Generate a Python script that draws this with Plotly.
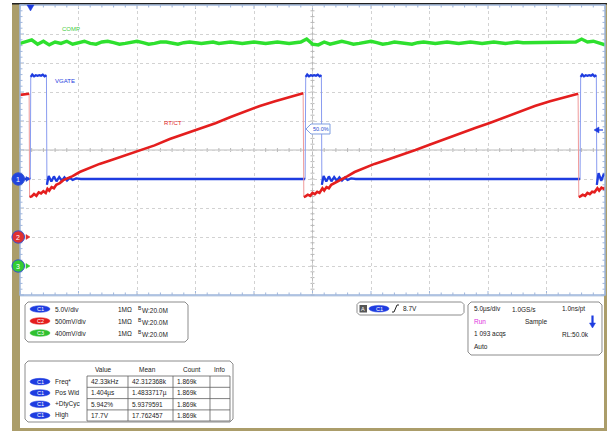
import plotly.graph_objects as go

W, H = 607, 431

# ------------------------------------------------------------------ data
# Channel 1 : VGATE (V) vs time (us)
vgate_t = [-0.9, -0.6, -0.3, -0.02, 0.02, 0.15, 0.3, 0.45, 0.6, 0.75, 0.9, 1.05, 1.2, 1.36,
           1.40, 1.55, 1.78, 2.0, 2.22, 2.45, 2.68, 2.9, 3.12, 3.35, 3.6, 3.9, 4.3, 5.0,
           8.0, 12.0, 16.0, 20.0, 23.47,
           23.52, 23.65, 23.8, 23.95, 24.1, 24.25, 24.4, 24.55, 24.72, 24.86,
           24.90, 25.05, 25.28, 25.5, 25.72, 25.95, 26.18, 26.4, 26.62, 26.85, 27.1, 27.4,
           27.8, 28.5, 32.0, 36.0, 40.0, 44.0, 46.97,
           47.02, 47.15, 47.3, 47.45, 47.6, 47.75, 47.9, 48.05, 48.2, 48.36,
           48.40, 48.55, 48.78, 49.0, 49.1]
vgate_v = [0.1, -0.1, 0.1, 0.0, 17.6, 18.0, 17.7, 17.9, 17.8, 17.9, 17.8, 18.0, 17.7, 17.9,
           -1.0, 0.5, -0.45, 0.45, -0.4, 0.35, -0.3, 0.3, -0.25, 0.2, -0.15, 0.1, 0.0, 0.0,
           0.05, -0.05, 0.05, 0.0, 0.0,
           17.6, 18.0, 17.7, 17.9, 17.8, 17.9, 17.8, 18.0, 17.7, 17.9,
           -1.0, 0.5, -0.45, 0.45, -0.4, 0.35, -0.3, 0.3, -0.25, 0.2, -0.15, 0.1,
           0.0, 0.0, 0.05, -0.05, 0.05, 0.0, 0.0,
           17.6, 18.0, 17.7, 17.9, 17.8, 17.9, 17.8, 18.0, 17.7, 17.9,
           -1.0, 1.0, -0.3, 0.9, 0.5]

# Channel 2 : RT/CT (V) vs time (us)
rtct_t = [-0.9, -0.5, -0.12, -0.08, 0.1, 0.3, 0.5, 0.7, 0.9, 1.1, 1.3, 1.45, 1.6, 1.8, 2.0,
          2.2, 2.5, 2.8, 3.2, 3.6, 4.2, 5.0, 5.9, 6.8, 7.7, 8.5, 9.4, 10.6, 11.9, 13.2, 14.5,
          15.8, 17.1, 18.4, 19.6, 20.9, 22.2, 23.3,
          23.36, 23.5, 23.7, 23.9, 24.1, 24.3, 24.5, 24.7, 24.95, 25.1, 25.3, 25.5, 25.7,
          26.0, 26.3, 26.7, 27.1, 27.7, 28.5, 29.4, 30.3, 31.2, 32.0, 32.9, 34.1, 35.4,
          36.7, 38.0, 39.3, 40.6, 41.9, 43.1, 44.4, 45.7, 46.8,
          46.86, 47.0, 47.2, 47.4, 47.6, 47.8, 48.0, 48.2, 48.45, 48.6, 48.8, 49.0, 49.1]
rtct_v = [2.45, 2.46, 2.47, 0.69, 0.70, 0.74, 0.71, 0.77, 0.75, 0.79, 0.76, 0.83, 0.80, 0.86,
          0.84, 0.90, 0.93, 0.98, 1.01, 1.05, 1.12, 1.19, 1.26, 1.32, 1.38, 1.44, 1.50, 1.58,
          1.69, 1.78, 1.88, 1.96, 2.07, 2.17, 2.26, 2.34, 2.41, 2.48,
          0.69, 0.70, 0.73, 0.71, 0.76, 0.74, 0.78, 0.76, 0.84, 0.80, 0.86, 0.84, 0.90,
          0.93, 0.97, 1.01, 1.05, 1.12, 1.19, 1.26, 1.32, 1.38, 1.44, 1.50, 1.59, 1.69,
          1.78, 1.88, 1.97, 2.07, 2.17, 2.26, 2.34, 2.41, 2.47,
          0.69, 0.70, 0.73, 0.71, 0.76, 0.74, 0.78, 0.77, 0.84, 0.80, 0.85, 0.83, 0.86]

# Channel 3 : COMP (V), sampled every 0.5 us from -0.9 us
comp_t0, comp_dt = -0.9, 0.5
comp_v = [3.07, 3.09, 3.12, 3.06, 3.10, 3.05, 3.09, 3.07, 3.10, 3.06,
          3.08, 3.10, 3.07, 3.06, 3.09, 3.10, 3.08, 3.06, 3.07, 3.09,
          3.10, 3.08, 3.06, 3.07, 3.09, 3.09, 3.07, 3.06, 3.08, 3.09,
          3.08, 3.07, 3.08, 3.09, 3.07, 3.08, 3.09, 3.08, 3.07, 3.08,
          3.09, 3.08, 3.07, 3.08, 3.09, 3.08, 3.07, 3.08, 3.09, 3.13,
          3.06, 3.05, 3.09, 3.06, 3.08, 3.10, 3.08, 3.06, 3.07, 3.09,
          3.10, 3.08, 3.06, 3.07, 3.09, 3.08, 3.07, 3.06, 3.08, 3.09,
          3.08, 3.07, 3.08, 3.09, 3.08, 3.07, 3.08, 3.09, 3.08, 3.07,
          3.08, 3.09, 3.08, 3.07, 3.08, 3.09, 3.08, 3.08, 3.09, 3.08,
          3.08, 3.09, 3.08, 3.09, 3.08, 3.09, 3.13, 3.09, 3.10, 3.07, 3.05]
comp_t = [round(comp_t0 + comp_dt * i, 2) for i in range(len(comp_v))]

ch_names = ["VGATE", "RT/CT", "COMP"]
ch_scale = ["5.0V/div", "500mV/div", "400mV/div"]
meas_names = ["Freq*", "Pos Wid", "+DtyCyc", "High"]
meas_value = ["42.33kHz", "1.404µs", "5.942%", "17.7V"]
meas_mean = ["42.312368k", "1.4833717µ", "5.9379591", "17.762457"]
meas_count = ["1.869k", "1.869k", "1.869k", "1.869k"]

# ------------------------------------------------------------------ geometry
X0, X1, Y0, Y1 = 20, 605, 5, 295
CX, CY = (X0 + X1) / 2, 150
DX, DY = (X1 - X0) / 10, (Y1 - Y0) / 10


def fx(x):
    return x / W


def fy(y):
    return 1 - y / H


BLUE, RED, GREEN = "#1e3ce0", "#e41e1e", "#2ee02e"
FONT = "Liberation Sans, Arial, sans-serif"


def split(t, v, thr):
    xs, ys = [], []
    for i in range(len(t)):
        if i > 0 and abs(v[i] - v[i - 1]) > thr:
            xs.append(None)
            ys.append(None)
        xs.append(t[i])
        ys.append(v[i])
    return xs, ys


fig = go.Figure()
fig.add_trace(go.Scatter(x=comp_t, y=comp_v, yaxis="y3", mode="lines",
                         line=dict(color=GREEN, width=3.4), hoverinfo="skip"))
fig.add_trace(go.Scatter(x=rtct_t, y=rtct_v, yaxis="y2", mode="lines",
                         line=dict(color="#f09a9a", width=1), hoverinfo="skip"))
fig.add_trace(go.Scatter(x=vgate_t, y=vgate_v, yaxis="y", mode="lines",
                         line=dict(color="#8a9cf0", width=1), hoverinfo="skip"))
rx, ry = split(rtct_t, rtct_v, 0.5)
fig.add_trace(go.Scatter(x=rx, y=ry, yaxis="y2", mode="lines",
                         line=dict(color=RED, width=2.6), hoverinfo="skip"))
bx, by = split(vgate_t, vgate_v, 5)
fig.add_trace(go.Scatter(x=bx, y=by, yaxis="y", mode="lines",
                         line=dict(color=BLUE, width=2.3), hoverinfo="skip"))

shapes = []
ann = []


def rect(x0, y0, x1, y1, fill=None, line=None, lw=1, layer="below"):
    shapes.append(dict(type="rect", xref="paper", yref="paper",
                       x0=fx(x0), x1=fx(x1), y0=fy(y1), y1=fy(y0),
                       fillcolor=fill or "rgba(0,0,0,0)",
                       line=dict(color=line or "rgba(0,0,0,0)", width=lw if line else 0),
                       layer=layer))


def path(pts_list, color, lw=1, fill=None, layer="below", closed=False):
    d = ""
    for pts in pts_list:
        d += "M%.5f,%.5f" % (fx(pts[0][0]), fy(pts[0][1]))
        for p in pts[1:]:
            d += "L%.5f,%.5f" % (fx(p[0]), fy(p[1]))
        if closed:
            d += "Z"
    shapes.append(dict(type="path", xref="paper", yref="paper", path=d,
                       line=dict(color=color, width=lw), fillcolor=fill or "rgba(0,0,0,0)",
                       layer=layer))


def rrect(x0, y0, x1, y1, r, color, lw=1, fill="white"):
    pts = [(x0 + r, y0), (x1 - r, y0), (x1, y0 + r), (x1, y1 - r), (x1 - r, y1),
           (x0 + r, y1), (x0, y1 - r), (x0, y0 + r)]
    path([pts], color, lw, fill=fill, layer="above", closed=True)


def text(x, y, s, size=7, color="#222", anchor="left"):
    ann.append(dict(xref="paper", yref="paper", x=fx(x), y=fy(y), text=s,
                    showarrow=False, xanchor=anchor, yanchor="middle",
                    font=dict(family=FONT, size=size, color=color)))


def pill(x0, x1, yc, color, label):
    shapes.append(dict(type="circle", xref="paper", yref="paper", x0=fx(x0), x1=fx(x1),
                       y0=fy(yc + 3.3), y1=fy(yc - 3.3), fillcolor=color,
                       line=dict(color=color, width=0.5), layer="above"))
    text((x0 + x1) / 2, yc, label, size=5.5, color="white", anchor="center")


# frame
rect(12, 3, W, H, fill="#ab9d6a")
rect(12, 3, W, 4.5, fill="#202020")
rect(X0, Y0, X1, Y1, fill="white")
rect(X0, 297, 604, 428, fill="white")
rect(X0, 295, 604, 297, fill="#dfe6f0")

# center lines + minor ticks
path([[(X0, CY), (X1, CY)], [(CX, Y0), (CX, Y1)]], "#bcbcbc", 1)
ticks = []
for k in range(51):
    x = X0 + k * DX / 5
    ticks.append([(x, CY - 2), (x, CY + 2)])
for k in range(51):
    y = Y0 + k * DY / 5
    ticks.append([(CX - 2, y), (CX + 2, y)])
path(ticks, "#b8b8b8", 1)
edge = []
for k in range(51):
    x = X0 + k * DX / 5
    L = 4 if k % 5 == 0 else 2.5
    edge.append([(x, Y0), (x, Y0 + L)])
    edge.append([(x, Y1), (x, Y1 - L)])
for k in range(51):
    y = Y0 + k * DY / 5
    L = 4 if k % 5 == 0 else 2.5
    edge.append([(X0, y), (X0 + L, y)])
    edge.append([(X1, y), (X1 - L, y)])
path(edge, "#9fb6dc", 1)
rect(X0, Y0, X1, Y1, line="#9fb6dc", lw=1.5, layer="above")

# markers
path([[(27, 5), (34, 5), (30.5, 11)]], BLUE, 0.5, fill=BLUE, layer="above", closed=True)
path([[(594, 130), (599, 127), (599, 133)]], BLUE, 0.5, fill=BLUE, layer="above", closed=True)
path([[(598, 130), (603, 130)]], BLUE, 1.2, layer="above")
for yc, col, lab in [(179, "#2244dd", "1"), (237, "#e03030", "2"), (266, "#33cc33", "3")]:
    shapes.append(dict(type="circle", xref="paper", yref="paper", x0=fx(12), x1=fx(24.5),
                       y0=fy(yc + 6.2), y1=fy(yc - 6.2), fillcolor=col,
                       line=dict(color="#3050d0", width=1), layer="above"))
    text(18.3, yc, lab, size=7, color="white", anchor="center")
    path([[(26, yc - 2.5), (30, yc), (26, yc + 2.5)]], col, 0.5, fill=col, layer="above", closed=True)

# callout
path([[(306, 129), (311, 124), (330, 124), (330, 134), (311, 134)]], "#7f9ee0", 1,
     fill="white", layer="above", closed=True)
text(320.5, 129.3, "50.0%", size=5.5, color="#2a4ad0", anchor="center")

# trace labels
text(60, 29, "COMP", size=6, color="#3ccc3c")
text(53, 81, "VGATE", size=6, color=BLUE)
text(162, 123, "RT/CT", size=6, color=RED)

# channel box
rrect(25, 302, 188, 342, 3, "#8c8c8c")
rows = [309, 321, 333]
cols = [BLUE, RED, "#2fc02f"]
for i in range(3):
    pill(30, 50, rows[i], cols[i], "C%d" % (i + 1))
    text(53, rows[i], ch_scale[i], size=6.5)
    text(116, rows[i], "1MΩ", size=6.5)
    text(136, rows[i] - 1.5, "B", size=5)
    text(139.5, rows[i] + 1, "W:20.0M", size=6.5)

# measurement box
rrect(25, 361, 233, 422, 3, "#8c8c8c")
colx = [87, 128, 173, 210, 230]
rowy = [376, 387.3, 398.6, 409.9, 421]
grid = []
for x in colx:
    grid.append([(x, rowy[0]), (x, rowy[-1])])
for y in rowy:
    grid.append([(colx[0], y), (colx[-1], y)])
path(grid, "#606060", 0.8, layer="above")
for hx, hs in [(103, "Value"), (147, "Mean"), (192, "Count"), (219, "Info")]:
    text(hx, 369.5, hs, size=6.5, anchor="center")
for i in range(4):
    yc = (rowy[i] + rowy[i + 1]) / 2
    pill(30, 50, yc, BLUE, "C1")
    text(53, yc, meas_names[i], size=6.5)
    text(89, yc, meas_value[i], size=6.5)
    text(130, yc, meas_mean[i], size=6.5)
    text(175, yc, meas_count[i], size=6.5)

# trigger box
rrect(357, 302, 464, 315, 2.5, "#8c8c8c")
rect(359.5, 305, 367, 312.5, fill="#555555", layer="above")
text(363.2, 308.8, "A", size=5.5, color="white", anchor="center")
pill(369, 389, 308.7, BLUE, "C1")
path([[(392, 312), (394, 312), (397, 305), (399, 305)]], "#222222", 1, layer="above")
text(401, 308.7, "8.7V", size=6.5)

# timebase box
rrect(468, 302, 602, 355, 3, "#8c8c8c")
text(472, 309, "5.0µs/div", size=6.5)
text(510, 309, "1.0GS/s", size=6.5)
text(560, 309, "1.0ns/pt", size=6.5)
text(472, 321.5, "Run", size=6.5, color="#e030e0")
text(523, 321.5, "Sample", size=6.5)
path([[(592.5, 315.5), (592.5, 324)]], BLUE, 2.2, layer="above")
path([[(589.5, 323), (595.5, 323), (592.5, 328)]], BLUE, 0.5, fill=BLUE, layer="above", closed=True)
text(472, 334, "1 093 acqs", size=6.5)
text(560, 334, "RL:50.0k", size=6.5)
text(472, 346, "Auto", size=6.5)

fig.update_layout(
    width=W, height=H, margin=dict(l=0, r=0, t=0, b=0),
    paper_bgcolor="white", plot_bgcolor="rgba(0,0,0,0)", showlegend=False,
    xaxis=dict(domain=[fx(X0), fx(X1)], range=[-0.9, 49.1], tick0=-0.9, dtick=5,
               showgrid=True, gridcolor="#d2d2d2", griddash="dot", gridwidth=1,
               zeroline=False, showticklabels=False, ticks="", showline=False, fixedrange=True),
    yaxis=dict(domain=[fy(Y1), fy(Y0)], range=[-20, 30], tick0=0, dtick=5,
               showgrid=True, gridcolor="#d2d2d2", griddash="dot", gridwidth=1,
               zeroline=False, showticklabels=False, ticks="", showline=False, fixedrange=True),
    yaxis2=dict(overlaying="y", range=[-1, 4], visible=False, fixedrange=True),
    yaxis3=dict(overlaying="y", range=[-0.4, 3.6], visible=False, fixedrange=True),
    shapes=shapes, annotations=ann,
)
fig.write_html("out.html", config={"displayModeBar": False},
               post_script="document.body.style.margin='0';document.body.style.padding='0';"
                           "document.documentElement.style.overflow='hidden';")
